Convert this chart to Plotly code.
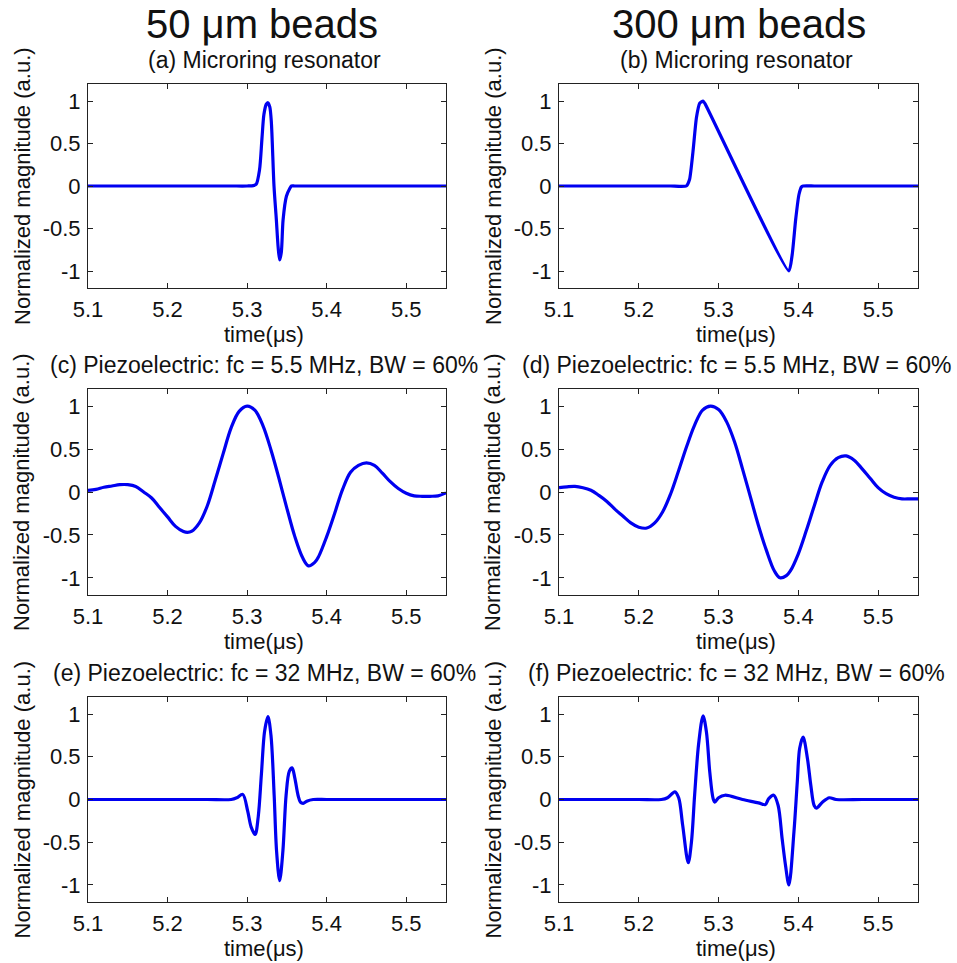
import plotly.graph_objects as go

# ---------------- data ----------------
t_a = [5.10, 5.15, 5.20, 5.25, 5.28, 5.300, 5.308, 5.3114, 5.3156, 5.3186, 5.3211, 5.3240, 5.3262, 5.3285, 5.3304,
       5.3338, 5.3367, 5.3390, 5.3409, 5.3430, 5.3452, 5.3494, 5.3536, 5.3557, 5.36, 5.38, 5.42, 5.46, 5.50, 5.55]
y_a = [0.0, 0.0, 0.0, 0.0, 0.0, 0.0, 0.005, 0.02, 0.19, 0.55, 0.84, 0.96, 0.98, 0.93, 0.76,
       0.0, -0.39, -0.72, -0.87, -0.78, -0.40, -0.12, -0.03, 0.0, 0.0, 0.0, 0.0, 0.0, 0.0, 0.0]

t_b = [5.10, 5.15, 5.20, 5.24, 5.2595, 5.2637, 5.2680, 5.2722, 5.2764, 5.2806, 5.2830,
       5.3882, 5.3924, 5.3966, 5.4008, 5.4040, 5.4060, 5.42, 5.46, 5.50, 5.55]
y_b = [0.0, 0.0, 0.0, 0.0, 0.0, 0.08, 0.41, 0.80, 0.975, 1.0, 0.97,
       -1.0, -0.80, -0.40, -0.10, -0.01, 0.0, 0.0, 0.0, 0.0, 0.0]

t_c = [5.10, 5.11, 5.12, 5.13, 5.14, 5.15, 5.16, 5.17, 5.18, 5.19, 5.20, 5.21, 5.22, 5.225,
       5.23, 5.24, 5.25, 5.26, 5.27, 5.28, 5.29, 5.30, 5.31, 5.32, 5.33, 5.34, 5.35, 5.36,
       5.37, 5.377, 5.385, 5.39, 5.40, 5.41, 5.42, 5.43, 5.44, 5.45, 5.46, 5.47, 5.48, 5.49,
       5.50, 5.51, 5.52, 5.53, 5.54, 5.55]
y_c = [0.02, 0.03, 0.055, 0.07, 0.085, 0.085, 0.065, 0.0, -0.07, -0.18, -0.29, -0.40, -0.46, -0.47,
       -0.46, -0.36, -0.16, 0.14, 0.45, 0.75, 0.94, 1.0, 0.95, 0.77, 0.49, 0.16, -0.19, -0.52,
       -0.77, -0.86, -0.82, -0.75, -0.52, -0.25, 0.03, 0.23, 0.31, 0.34, 0.31, 0.22, 0.12, 0.04,
       -0.015, -0.045, -0.05, -0.05, -0.045, -0.01]

t_d = [5.10, 5.11, 5.12, 5.13, 5.14, 5.15, 5.16, 5.17, 5.18, 5.19, 5.20, 5.21, 5.22, 5.23,
       5.24, 5.25, 5.26, 5.27, 5.28, 5.29, 5.30, 5.31, 5.32, 5.33, 5.34, 5.35, 5.36, 5.37,
       5.377, 5.385, 5.39, 5.40, 5.41, 5.42, 5.43, 5.44, 5.45, 5.46, 5.47, 5.48, 5.49, 5.50,
       5.51, 5.52, 5.53, 5.54, 5.55]
y_d = [0.05, 0.06, 0.065, 0.05, 0.02, -0.04, -0.11, -0.20, -0.28, -0.36, -0.41, -0.42, -0.36, -0.23,
       -0.02, 0.25, 0.53, 0.78, 0.955, 1.0, 0.96, 0.82, 0.585, 0.27, -0.06, -0.39, -0.68, -0.92,
       -1.0, -0.975, -0.92, -0.72, -0.45, -0.16, 0.12, 0.31, 0.40, 0.42, 0.37, 0.27, 0.16, 0.05,
       -0.02, -0.06, -0.08, -0.08, -0.08]

t_e = [5.10, 5.15, 5.20, 5.25, 5.280, 5.287, 5.2945, 5.3008, 5.3050, 5.3101, 5.3140, 5.3180, 5.3220, 5.3262,
       5.3300, 5.3340, 5.3370, 5.3409, 5.3450, 5.3490, 5.3530, 5.3566, 5.3600, 5.3640, 5.3670,
       5.3705, 5.3750, 5.3831, 5.40, 5.44, 5.48, 5.52, 5.55]
y_e = [0.0, 0.0, 0.0, 0.0, 0.0, 0.02, 0.06, -0.14, -0.32, -0.41, -0.20, 0.30, 0.80, 0.97,
       0.75, 0.05, -0.60, -0.95, -0.60, 0.05, 0.33, 0.37, 0.25, 0.05, -0.03,
       -0.045, -0.02, 0.0, 0.0, 0.0, 0.0, 0.0, 0.0]

t_f = [5.10, 5.15, 5.20, 5.2283, 5.2360, 5.2452, 5.2500, 5.2550, 5.2620, 5.2660, 5.2700, 5.2750, 5.2806,
       5.2848, 5.2890, 5.2932, 5.2953, 5.3000, 5.3080, 5.3300, 5.3500, 5.3586, 5.3629, 5.3692,
       5.3747, 5.3797, 5.3839, 5.3882, 5.3945, 5.3987, 5.4017, 5.4060, 5.4114, 5.4156, 5.4198,
       5.4227, 5.4304, 5.4388, 5.4472, 5.48, 5.52, 5.55]
y_f = [0.0, 0.0, 0.0, 0.0, 0.02, 0.09, 0.02, -0.30, -0.74, -0.50, 0.05, 0.65, 0.98,
       0.79, 0.32, 0.01, -0.03, 0.02, 0.05, 0.0, -0.04, -0.06, 0.01, 0.05,
       -0.07, -0.46, -0.77, -1.0, -0.38, 0.21, 0.60, 0.73, 0.48, 0.17, -0.07,
       -0.10, -0.03, 0.02, 0.0, 0.0, 0.0, 0.0]

x_ticks = [5.1, 5.2, 5.3, 5.4, 5.5]
x_tick_labels = ["5.1", "5.2", "5.3", "5.4", "5.5"]
y_ticks = [-1, -0.5, 0, 0.5, 1]
y_tick_labels = ["-1", "-0.5", "0", "0.5", "1"]

column_titles = ["50 \u03bcm beads", "300 \u03bcm beads"]
panel_titles = ["(a) Microring resonator", "(b) Microring resonator",
                "(c) Piezoelectric: fc = 5.5 MHz, BW = 60%", "(d) Piezoelectric: fc = 5.5 MHz, BW = 60%",
                "(e) Piezoelectric: fc = 32 MHz, BW = 60%", "(f) Piezoelectric: fc = 32 MHz, BW = 60%"]
x_title = "time(\u03bcs)"
y_title = "Normalized magnitude (a.u.)"

series = [(t_a, y_a), (t_b, y_b), (t_c, y_c), (t_d, y_d), (t_e, y_e), (t_f, y_f)]
smooth = [0.8, 0.5, 1.0, 1.0, 0.9, 0.9]

# ---------------- layout geometry (pixels) ----------------
W, H = 957, 963
cols_px = [(88, 446), (559, 918)]
rows_px = [(84, 288), (389, 595), (697, 902)]

FONT = "Liberation Sans, Arial, Helvetica, sans-serif"
TXT = "#111111"
AX = "#222222"
BLUE = "#0000f0"

fig = go.Figure()
annotations = []

def px2x(px):
    return px / W

def px2y(py):
    return 1 - py / H

for i, (t, y) in enumerate(series):
    r, c = divmod(i, 2)
    k = "" if i == 0 else str(i + 1)
    fig.add_trace(go.Scatter(x=t, y=y, mode="lines", xaxis="x" + k, yaxis="y" + k,
                             line=dict(color=BLUE, width=3.2, shape="spline", smoothing=smooth[i]),
                             showlegend=False, hoverinfo="skip"))
    (x0, x1), (y0, y1) = cols_px[c], rows_px[r]
    axcommon = dict(showline=True, linecolor=AX, linewidth=1, mirror="ticks",
                    ticks="inside", ticklen=5, tickcolor=AX, tickwidth=1,
                    showgrid=False, zeroline=False, automargin=False,
                    tickfont=dict(family=FONT, size=22, color=TXT))
    fig.update_layout(**{
        "xaxis" + k: dict(domain=[px2x(x0), px2x(x1)], range=[5.1, 5.55],
                          tickvals=x_ticks, ticktext=x_tick_labels,
                          anchor="y" + k, ticklabelstandoff=2, **axcommon),
        "yaxis" + k: dict(domain=[px2y(y1), px2y(y0)], range=[-1.2, 1.2],
                          tickvals=y_ticks, ticktext=y_tick_labels,
                          anchor="x" + k, ticklabelstandoff=2, **axcommon),
    })
    xc = 264 if c == 0 else 736
    annotations.append(dict(text=panel_titles[i], x=px2x(xc), y=px2y(y0 - 24),
                            xref="paper", yref="paper", showarrow=False,
                            xanchor="center", yanchor="middle",
                            font=dict(family=FONT, size=23, color=TXT)))
    annotations.append(dict(text=x_title, x=px2x(xc), y=px2y(y1 + 46),
                            xref="paper", yref="paper", showarrow=False,
                            xanchor="center", yanchor="middle",
                            font=dict(family=FONT, size=22, color=TXT)))
    annotations.append(dict(text=y_title, x=px2x(x0 - 66), y=px2y((y0 + y1) / 2),
                            xref="paper", yref="paper", showarrow=False, textangle=-90,
                            xanchor="center", yanchor="middle",
                            font=dict(family=FONT, size=22, color=TXT)))

for c, title in enumerate(column_titles):
    annotations.append(dict(text=title, x=px2x(262 if c == 0 else 739), y=px2y(24),
                            xref="paper", yref="paper", showarrow=False,
                            xanchor="center", yanchor="middle",
                            font=dict(family=FONT, size=40, color=TXT)))

fig.update_layout(width=W, height=H, margin=dict(l=0, r=0, t=0, b=0),
                  paper_bgcolor="white", plot_bgcolor="white",
                  annotations=annotations)

fig.write_html("out.html")
